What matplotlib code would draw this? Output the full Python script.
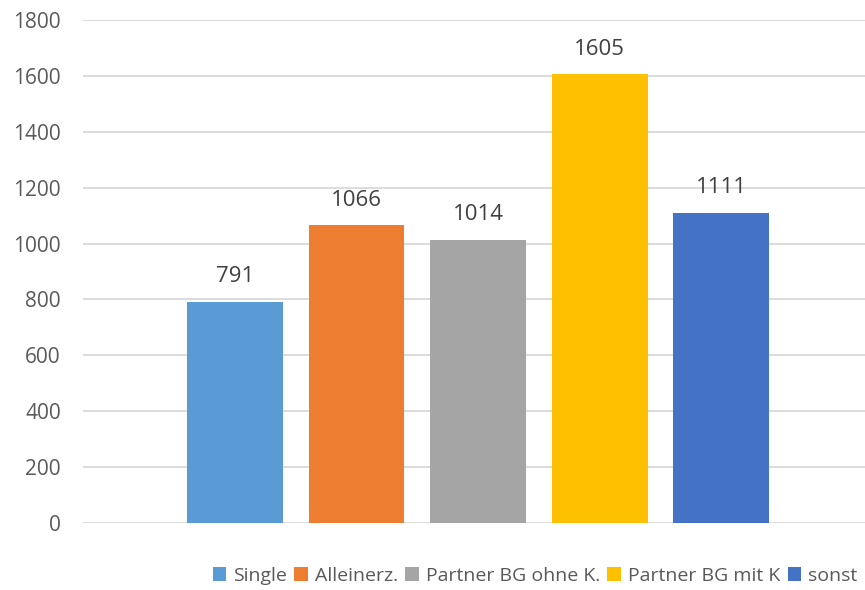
import numpy as np
import matplotlib as mpl
import matplotlib.pyplot as plt
from matplotlib.patches import Patch

# data
categories = ['Single', 'Alleinerz.', 'Partner BG ohne K.', 'Partner BG mit K', 'sonst']
values = [791, 1066, 1014, 1605, 1111]
colors = ['#5B9BD5', '#ED7D31', '#A5A5A5', '#FFC000', '#4472C4']
yticks = list(range(0, 2000, 200))

mpl.rcParams['font.family'] = ['Open Sans', 'DejaVu Sans']
txt_color = '#595959'

fig = plt.figure(figsize=(8.65, 5.9), dpi=100)
# axes in pixels: left 83, right 865, y0 at 523, y1800 at 20
W, H = 865, 590
ax = fig.add_axes([83 / W, (H - 523) / H, (865 - 83) / W, (523 - 20) / H])

x = np.arange(len(values))
bars = ax.bar(x, values, width=0.79, color=colors, zorder=3)
for xi, v in zip(x, values):
    ax.text(xi, v + 52, str(v), ha='center', va='bottom', fontsize=16, color='#404040')

ax.set_xlim(-1.251, 5.185)
ax.set_ylim(0, 1800)
ax.set_yticks(yticks)
ax.set_xticks([])
ax.grid(axis='y', color='#D9D9D9', linewidth=1.3, zorder=0)
ax.tick_params(axis='y', length=0, labelsize=15, labelcolor=txt_color, pad=16)
for s in ax.spines.values():
    s.set_visible(False)

handles = [Patch(facecolor=c, label=l) for c, l in zip(colors, categories)]
fig.legend(handles=handles, loc='center', bbox_to_anchor=(535 / W, 1 - 576 / H), ncol=5,
           frameon=False, fontsize=14, labelcolor=txt_color, handlelength=0.7,
           handleheight=0.7, handletextpad=0.35, columnspacing=0.38, borderpad=0,
           borderaxespad=0)

fig.savefig('out.png', dpi=100)
